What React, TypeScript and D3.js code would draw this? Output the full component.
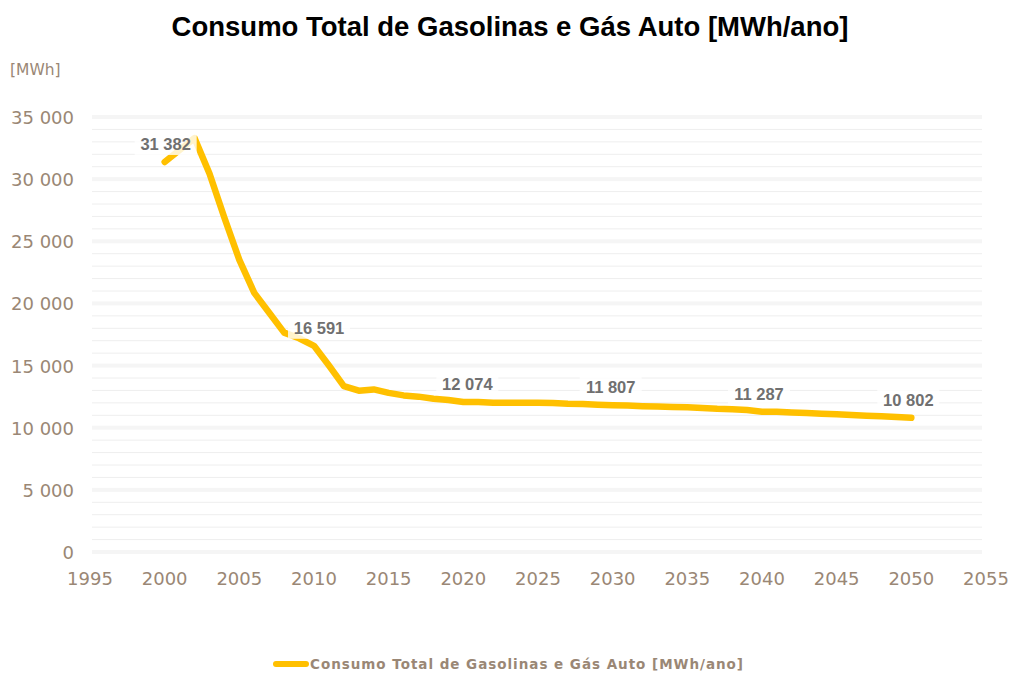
import React from "react";
import * as d3 from "d3";

const years: number[] = [
  2000, 2001, 2002, 2003, 2004, 2005, 2006, 2007, 2008, 2009, 2010,
  2011, 2012, 2013, 2014, 2015, 2016, 2017, 2018, 2019, 2020,
  2021, 2022, 2023, 2024, 2025, 2026, 2027, 2028, 2029, 2030,
  2031, 2032, 2033, 2034, 2035, 2036, 2037, 2038, 2039, 2040,
  2041, 2042, 2043, 2044, 2045, 2046, 2047, 2048, 2049, 2050,
];
const consumo: number[] = [
  31382, 32350, 33300, 30450, 26900, 23500, 20850, 19250, 17650, 17200, 16591,
  15000, 13350, 12980, 13080, 12800, 12600, 12500, 12330, 12230, 12074,
  12060, 12010, 12000, 12000, 12000, 11980, 11920, 11900, 11850, 11807,
  11780, 11730, 11700, 11660, 11640, 11590, 11520, 11480, 11420, 11287,
  11280, 11230, 11180, 11130, 11080, 11020, 10970, 10920, 10860, 10802,
];
const labelYears: number[] = [2000, 2010, 2020, 2030, 2040, 2050];
const xTicks: number[] = [1995, 2000, 2005, 2010, 2015, 2020, 2025, 2030, 2035, 2040, 2045, 2050, 2055];
const yTicks: number[] = [0, 5000, 10000, 15000, 20000, 25000, 30000, 35000];
const title = "Consumo Total de Gasolinas e Gás Auto [MWh/ano]";
const seriesName = "Consumo Total de Gasolinas e Gás Auto [MWh/ano]";
const unitLabel = "[MWh]";

const fmt = (v: number) => d3.format(",")(v).replace(/,/g, " ");

export default function App() {
  const W = 1010, H = 675;
  const x = d3.scaleLinear().domain([1995, 2055]).range([90, 986]);
  const y = d3.scaleLinear().domain([0, 35000]).range([552, 117]);
  const gridLeft = 92, gridRight = 982;
  const minor = d3.range(0, 35001, 1000).filter((v) => v % 5000 !== 0);
  const data = years.map((yr, i) => ({ yr, v: consumo[i] }));
  const line = d3.line<{ yr: number; v: number }>().x((d) => x(d.yr)).y((d) => y(d.v));
  const tickColor = "#9a8775";
  const labels = labelYears.map((yr) => {
    const v = consumo[years.indexOf(yr)];
    let dx = 1;
    if (yr === 2010) dx = 5;
    if (yr === 2020) dx = 4;
    if (yr === 2030) dx = -2;
    if (yr === 2040) dx = -3;
    if (yr === 2050) dx = -3;
    return { yr, v, cx: x(yr) + dx, cy: y(v) - 18 };
  });
  return (
    <svg width={W} height={H} style={{ position: "absolute", left: 0, top: 0, background: "#fff" }}>
      <rect x={0} y={0} width={W} height={H} fill="#fff" />
      <text x={510} y={36} textAnchor="middle" fontFamily="'Liberation Sans', Arial, sans-serif" fontWeight="bold" fontSize={27.5} fill="#000">
        {title}
      </text>
      <text x={10} y={75} fontFamily="'DejaVu Sans', sans-serif" fontSize={15.5} fill={tickColor}>
        {unitLabel}
      </text>
      {minor.map((v) => (
        <line key={"m" + v} x1={gridLeft} x2={gridRight} y1={y(v)} y2={y(v)} stroke="#eeeeee" strokeWidth={1} />
      ))}
      {yTicks.map((v) => (
        <rect key={"M" + v} x={gridLeft} width={gridRight - gridLeft} y={y(v) - 2} height={4} fill="#f5f5f5" />
      ))}
      {yTicks.map((v) => (
        <text key={"yt" + v} x={74} y={y(v) + 7} textAnchor="end" fontFamily="'DejaVu Sans', sans-serif" fontSize={18} fill={tickColor}>
          {fmt(v)}
        </text>
      ))}
      {xTicks.map((t) => (
        <text key={"xt" + t} x={x(t)} y={585} textAnchor="middle" fontFamily="'DejaVu Sans', sans-serif" fontSize={18} fill={tickColor}>
          {t}
        </text>
      ))}
      <path d={line(data) || ""} fill="none" stroke="#ffc000" strokeWidth={6.5} strokeLinecap="round" strokeLinejoin="round" />
      {labels.map((l) => (
        <g key={"l" + l.yr}>
          <rect x={l.cx - 31} y={l.cy - 11} width={62} height={22} fill="#fff" fillOpacity={0.8} />
          <text x={l.cx} y={l.cy + 6} textAnchor="middle" fontFamily="'Liberation Sans', Arial, sans-serif" fontWeight="bold" fontSize={16.5} fill="#707070">
            {fmt(l.v)}
          </text>
        </g>
      ))}
      <line x1={276} x2={306} y1={664} y2={664} stroke="#ffc000" strokeWidth={6} strokeLinecap="round" />
      <text x={310} y={669} fontFamily="'DejaVu Sans', sans-serif" fontWeight="bold" fontSize={13.5} fill={tickColor} textLength={433} lengthAdjust="spacing">
        {seriesName}
      </text>
    </svg>
  );
}
